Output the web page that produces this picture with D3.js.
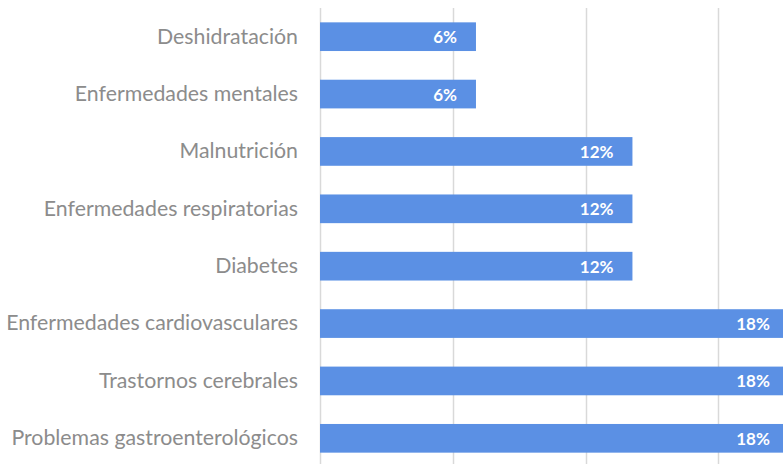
<!DOCTYPE html>
<html><head><meta charset="utf-8">
<script src="https://cdn.jsdelivr.net/npm/d3@7"></script>
<style>body{margin:0;background:#fff;overflow:hidden}</style>
</head><body>
<svg id="c" width="783" height="464"></svg>
<script>
const categories = ["Deshidratación","Enfermedades mentales","Malnutrición","Enfermedades respiratorias","Diabetes","Enfermedades cardiovasculares","Trastornos cerebrales","Problemas gastroenterológicos"];
const counts = [1,1,2,2,2,3,3,3];
const total = 17;
const values = counts.map(c => c / total);
const ticks = [0, 0.05, 0.10, 0.15, 0.20];

const svg = d3.select("#c");
const x0 = 319.5, pxPerUnit = 2660;
const x = d3.scaleLinear().domain([0, 0.20]).range([x0, x0 + 0.20 * pxPerUnit]);
const y = d3.scaleBand().domain(categories).range([8, 467]).paddingInner(0.5).paddingOuter(0.25);

svg.append("g").selectAll("line").data(ticks).join("line")
  .attr("x1", d => Math.round(x(d)) + 0.5).attr("x2", d => Math.round(x(d)) + 0.5)
  .attr("y1", 8).attr("y2", 464)
  .attr("stroke", "#d9d9d9").attr("stroke-width", 1.5);

svg.append("g").selectAll("rect").data(values).join("rect")
  .attr("x", x(0) + 0.5).attr("y", (d, i) => y(categories[i]))
  .attr("width", d => x(d) - x(0) - 0.5).attr("height", y.bandwidth())
  .attr("fill", "#5b90e4");

svg.append("g").selectAll("text").data(values).join("text")
  .attr("x", d => x(d) - 19).attr("y", (d, i) => y(categories[i]) + y.bandwidth() / 2)
  .attr("text-anchor", "end").attr("dominant-baseline", "central")
  .attr("font-family", "Lato, sans-serif").attr("font-weight", "bold").attr("font-size", 17)
  .attr("fill", "#fff")
  .text(d => d3.format(".0%")(d));

const yAxis = d3.axisLeft(y).tickSize(0).tickPadding(0);
const ga = svg.append("g").attr("transform", "translate(298,0)").call(yAxis);
ga.select(".domain").remove();
ga.selectAll("text").attr("font-family", "Lato, sans-serif").attr("font-size", 21.3).attr("fill", "#8c8c8c");
</script>
</body></html>
